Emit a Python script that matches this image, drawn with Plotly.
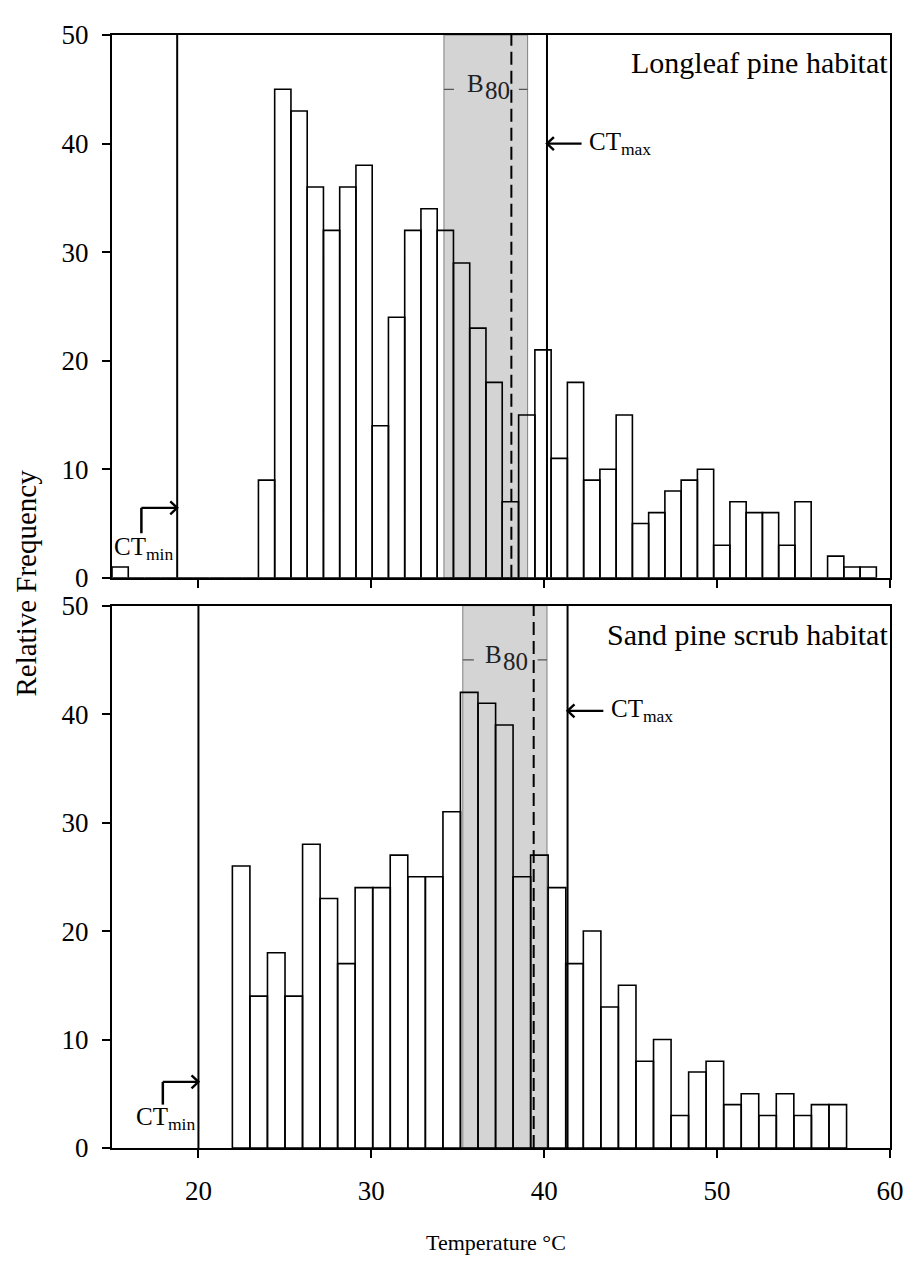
import plotly.graph_objects as go

# ---------------- data ----------------
# Longleaf pine habitat (top panel): bin centre temperatures (°C) and relative frequency
top_temp = [15.47, 16.41, 17.35, 18.29, 19.23, 20.17, 21.11, 22.05, 23.00, 23.94,
            24.88, 25.82, 26.76, 27.70, 28.64, 29.58, 30.52, 31.46, 32.40, 33.34,
            34.28, 35.22, 36.16, 37.10, 38.04, 38.99, 39.93, 40.87, 41.81, 42.75,
            43.69, 44.63, 45.57, 46.51, 47.45, 48.39, 49.33, 50.27, 51.21, 52.15,
            53.09, 54.03, 54.97, 55.92, 56.86, 57.80, 58.74]
top_freq = [1, 0, 0, 0, 0, 0, 0, 0, 0, 9,
            45, 43, 36, 32, 36, 38, 14, 24, 32, 34,
            32, 29, 23, 18, 7, 15, 21, 11, 18, 9,
            10, 15, 5, 6, 8, 9, 10, 3, 7, 6,
            6, 3, 7, 0, 2, 1, 1]
top_binw = 0.9406

# Sand pine scrub habitat (bottom panel)
bot_temp = [22.47, 23.48, 24.50, 25.51, 26.53, 27.54, 28.56, 29.57, 30.59, 31.60,
            32.62, 33.63, 34.65, 35.66, 36.68, 37.69, 38.71, 39.72, 40.74, 41.75,
            42.77, 43.78, 44.80, 45.81, 46.83, 47.84, 48.86, 49.87, 50.89, 51.90,
            52.92, 53.93, 54.95, 55.96, 56.98]
bot_freq = [26, 14, 18, 14, 28, 23, 17, 24, 24, 27,
            25, 25, 31, 42, 41, 39, 25, 27, 24, 17,
            20, 13, 15, 8, 10, 3, 7, 8, 4, 5,
            3, 5, 3, 4, 4]
bot_binw = 1.015

# thermal limits and B80 ranges
top_ctmin, top_ctmax = 18.77, 40.16
top_b80 = (34.20, 39.04)
top_mean = 38.10
bot_ctmin, bot_ctmax = 20.00, 41.35
bot_b80 = (35.29, 40.16)
bot_mean = 39.39

x_ticks = [20, 30, 40, 50, 60]
y_ticks = [0, 10, 20, 30, 40, 50]
panel_titles = ["Longleaf pine habitat", "Sand pine scrub habitat"]

SERIF = "Liberation Serif, Times New Roman, serif"

fig = go.Figure()
bar_style = dict(color="rgba(0,0,0,0)", line=dict(color="black", width=1.6))
fig.add_trace(go.Bar(x=top_temp, y=top_freq, width=top_binw, marker=bar_style,
                     xaxis="x", yaxis="y", showlegend=False))
fig.add_trace(go.Bar(x=bot_temp, y=bot_freq, width=bot_binw, marker=bar_style,
                     xaxis="x2", yaxis="y2", showlegend=False))

axis_common = dict(showline=True, linecolor="black", linewidth=2, mirror=True,
                   ticks="outside", ticklen=8, tickwidth=1.6, tickcolor="black",
                   showgrid=False, zeroline=False,
                   tickfont=dict(family=SERIF, size=27, color="black"))

# the page body adds an 8px offset, so the figure is sized/margined to compensate
fig.update_layout(
    width=908, height=1261,
    margin=dict(l=104, r=24, t=21, b=121),
    paper_bgcolor="white", plot_bgcolor="white",
    xaxis=dict(domain=[0, 1], anchor="y", range=[15, 60], tickvals=x_ticks,
               showticklabels=False, **axis_common),
    yaxis=dict(domain=[0.5123, 1], anchor="x", range=[0, 50], tickvals=y_ticks,
               ticklabelstandoff=8, **axis_common),
    xaxis2=dict(domain=[0, 1], anchor="y2", range=[15, 60], tickvals=x_ticks,
                ticklabelstandoff=10, **axis_common),
    yaxis2=dict(domain=[0, 0.4873], anchor="x2", range=[0, 50], tickvals=y_ticks,
                ticklabelstandoff=8, **axis_common),
    barmode="overlay",
)

shapes = []
annots = []
ARW_DX, ARW_DY = 0.40, 0.60  # arrowhead half-size in data units

def arrow(xr, yr, x_tail, x_tip, yv):
    d = 1 if x_tip > x_tail else -1
    shapes.append(dict(type="line", xref=xr, yref=yr, x0=x_tail, x1=x_tip, y0=yv, y1=yv,
                       line=dict(color="black", width=2.2), layer="above"))
    shapes.append(dict(type="path", xref=xr, yref=yr,
                       path=f"M {x_tip - d*ARW_DX},{yv + ARW_DY} L {x_tip},{yv} L {x_tip - d*ARW_DX},{yv - ARW_DY}",
                       line=dict(color="black", width=2.4), layer="above"))

panels = [
    ("x", "y", top_ctmin, top_ctmax, top_b80, top_mean, 40.0, 42.16, 42.50,
     16.70, 4.1, 6.45, 16.80, panel_titles[0], 47.5, 36.62, (34.78, 38.53)),
    ("x2", "y2", bot_ctmin, bot_ctmax, bot_b80, bot_mean, 40.3, 43.42, 43.75,
     17.94, 4.0, 6.1, 18.10, panel_titles[1], 47.3, 37.66, (35.93, 39.62)),
]
for (xr, yr, ctmin, ctmax, b80, mean, ctmax_y, arr_tail, ctmax_txt_x,
     bend_x, bend_y0, bend_y1, ctmin_txt_x, title, title_y, b_x, seg) in panels:
    # B80 shaded band
    shapes.append(dict(type="rect", xref=xr, yref=yr, x0=b80[0], x1=b80[1], y0=0, y1=50,
                       fillcolor="#d4d4d4", line=dict(color="#808080", width=1), layer="below"))
    # CTmin / CTmax lines
    for xv in (ctmin, ctmax):
        shapes.append(dict(type="line", xref=xr, yref=yr, x0=xv, x1=xv, y0=0, y1=50,
                           line=dict(color="black", width=2), layer="above"))
    # mean (dashed)
    shapes.append(dict(type="line", xref=xr, yref=yr, x0=mean, x1=mean, y0=0, y1=50,
                       line=dict(color="black", width=2, dash="13px,6px"), layer="above"))
    # B80 label side ticks
    shapes.append(dict(type="line", xref=xr, yref=yr, x0=b80[0], x1=seg[0], y0=45, y1=45,
                       line=dict(color="#555555", width=1.3)))
    shapes.append(dict(type="line", xref=xr, yref=yr, x0=seg[1], x1=b80[1], y0=45, y1=45,
                       line=dict(color="#555555", width=1.3)))
    # bent CTmin arrow: vertical part then horizontal arrow to the CTmin line
    shapes.append(dict(type="line", xref=xr, yref=yr, x0=bend_x, x1=bend_x, y0=bend_y0, y1=bend_y1,
                       line=dict(color="black", width=2.5), layer="above"))
    arrow(xr, yr, bend_x, ctmin, bend_y1)
    # CTmax arrow
    arrow(xr, yr, arr_tail, ctmax, ctmax_y)
    # texts
    annots.append(dict(xref=xr, yref=yr, x=ctmax_txt_x, y=ctmax_y, text="CT<sub>max</sub>",
                       showarrow=False, xanchor="left", yanchor="middle",
                       font=dict(family=SERIF, size=25, color="black")))
    annots.append(dict(xref=xr, yref=yr, x=ctmin_txt_x, y=2.7, text="CT<sub>min</sub>",
                       showarrow=False, xanchor="center", yanchor="middle",
                       font=dict(family=SERIF, size=25, color="black")))
    annots.append(dict(xref=xr, yref=yr, x=60.0, y=title_y, text=title,
                       showarrow=False, xanchor="right", yanchor="middle",
                       font=dict(family=SERIF, size=30, color="black")))
    annots.append(dict(xref=xr, yref=yr, x=b_x, y=45.5, text="B",
                       showarrow=False, xanchor="right", yanchor="middle",
                       font=dict(family=SERIF, size=25, color="#222222")))
    annots.append(dict(xref=xr, yref=yr, x=b_x - 0.16, y=44.85, text="80",
                       showarrow=False, xanchor="left", yanchor="middle",
                       font=dict(family=SERIF, size=25, color="#222222")))

# axis titles
annots.append(dict(xref="paper", yref="paper", x=-0.1106, y=0.508, text="Relative Frequency",
                   textangle=-90, showarrow=False, xanchor="center", yanchor="middle",
                   font=dict(family=SERIF, size=29, color="black")))
annots.append(dict(xref="paper", yref="paper", x=0.493, y=-0.0846, text="Temperature °C",
                   showarrow=False, xanchor="center", yanchor="middle",
                   font=dict(family=SERIF, size=22, color="black")))

fig.update_layout(shapes=shapes, annotations=annots)
fig.write_html("out.html")
